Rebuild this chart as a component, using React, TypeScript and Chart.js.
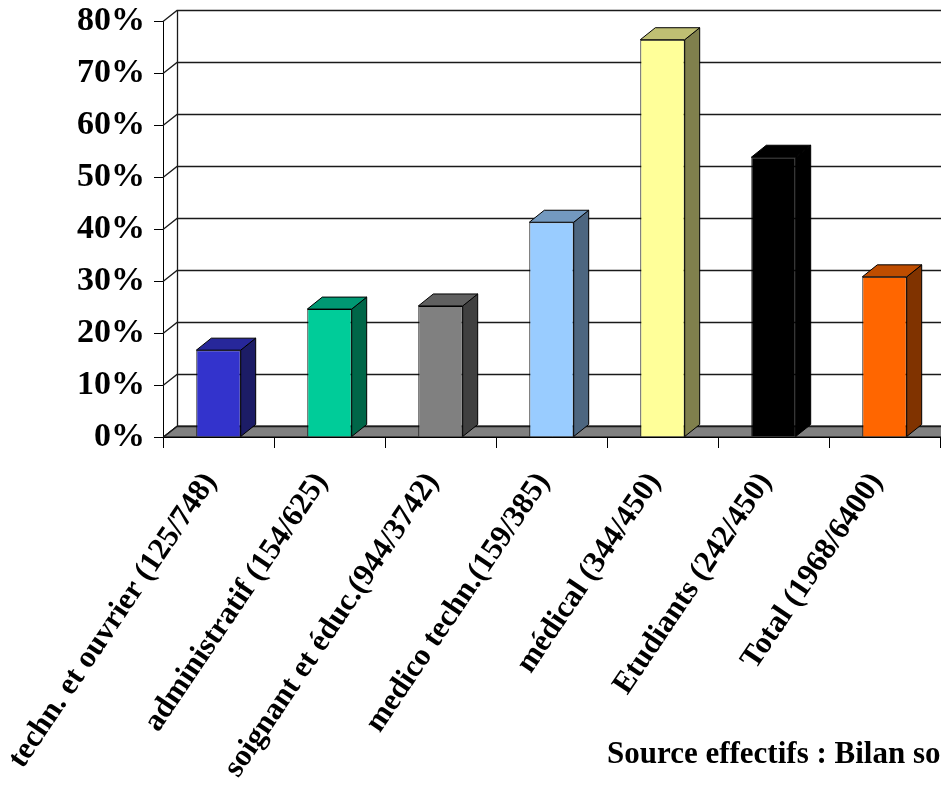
import React, { useEffect, useRef } from "react";
import { Chart, registerables } from "chart.js";

Chart.register(...registerables);

const categories = [
  "techn. et ouvrier (125/748)",
  "administratif (154/625)",
  "soignant et éduc.(944/3742)",
  "medico techn.(159/385)",
  "médical (344/450)",
  "Etudiants (242/450)",
  "Total (1968/6400)",
];
const values = [16.7, 24.6, 25.2, 41.3, 76.4, 53.8, 30.8];
const frontColors = ["#3333CC", "#00CC99", "#808080", "#99CCFF", "#FFFF99", "#000000", "#FF6600"];
const sideColors = ["#1C1C66", "#006648", "#404040", "#4D6680", "#80804D", "#000000", "#803300"];
const topColors = ["#27279A", "#009973", "#606060", "#7399BF", "#BFBF73", "#000000", "#BF4D00"];
const yTicks = [0, 10, 20, 30, 40, 50, 60, 70, 80];
const sourceText = "Source effectifs : Bilan social";

const WALL_DX = 14;
const WALL_DY = 11;
const BAR_DX = 15;
const BAR_DY = 12;

const threeD = {
  id: "threeD",
  beforeDatasetsDraw(chart: any) {
    const { ctx, chartArea, scales } = chart;
    const y = scales.y;
    const L = chartArea.left;
    const R = chart.width;
    const B = y.getPixelForValue(0);
    ctx.save();
    ctx.beginPath();
    ctx.moveTo(L, B);
    ctx.lineTo(L + WALL_DX, B - WALL_DY);
    ctx.lineTo(R + 20, B - WALL_DY);
    ctx.lineTo(R + 20, B);
    ctx.closePath();
    ctx.fillStyle = "#808080";
    ctx.fill();
    ctx.lineWidth = 1;
    ctx.strokeStyle = "#000";
    ctx.stroke();
    ctx.strokeStyle = "#1a1a1a";
    ctx.lineWidth = 1.3;
    for (const v of yTicks) {
      const py = Math.round(y.getPixelForValue(v)) + 0.5;
      ctx.beginPath();
      ctx.moveTo(L, py);
      ctx.lineTo(L + WALL_DX, py - WALL_DY);
      ctx.lineTo(R, py - WALL_DY);
      ctx.stroke();
    }
    const topY = Math.round(y.getPixelForValue(yTicks[yTicks.length - 1])) + 0.5;
    ctx.beginPath();
    ctx.moveTo(L + WALL_DX + 0.5, B - WALL_DY);
    ctx.lineTo(L + WALL_DX + 0.5, topY - WALL_DY);
    ctx.stroke();
    ctx.restore();
  },
  afterDatasetsDraw(chart: any) {
    const { ctx } = chart;
    const meta = chart.getDatasetMeta(0);
    ctx.save();
    ctx.lineWidth = 1;
    ctx.strokeStyle = "#000";
    meta.data.forEach((bar: any, i: number) => {
      const p = bar.getProps(["x", "y", "base", "width"], true);
      const x1 = p.x - p.width / 2;
      const x2 = p.x + p.width / 2;
      const top = p.y;
      const base = p.base;
      ctx.beginPath();
      ctx.moveTo(x2, top);
      ctx.lineTo(x2 + BAR_DX, top - BAR_DY);
      ctx.lineTo(x2 + BAR_DX, base - BAR_DY);
      ctx.lineTo(x2, base);
      ctx.closePath();
      ctx.fillStyle = sideColors[i];
      ctx.fill();
      ctx.stroke();
      ctx.beginPath();
      ctx.moveTo(x1, top);
      ctx.lineTo(x1 + BAR_DX, top - BAR_DY);
      ctx.lineTo(x2 + BAR_DX, top - BAR_DY);
      ctx.lineTo(x2, top);
      ctx.closePath();
      ctx.fillStyle = topColors[i];
      ctx.fill();
      ctx.stroke();
    });
    ctx.restore();
  },
  afterDraw(chart: any) {
    const { ctx } = chart;
    ctx.save();
    ctx.font = "bold 31px 'Liberation Serif'";
    ctx.fillStyle = "#000";
    ctx.textAlign = "left";
    ctx.textBaseline = "alphabetic";
    ctx.fillText(sourceText, 607, 763);
    ctx.restore();
  },
};

export default function App() {
  const ref = useRef<HTMLCanvasElement | null>(null);
  useEffect(() => {
    if (!ref.current) return;
    const chart = new Chart(ref.current, {
      type: "bar",
      data: {
        labels: categories,
        datasets: [
          {
            data: values,
            backgroundColor: frontColors,
            borderColor: "#000",
            borderWidth: 1,
            categoryPercentage: 1,
            barPercentage: 0.4,
          },
        ],
      },
      options: {
        animation: false,
        responsive: false,
        devicePixelRatio: 1,
        layout: { padding: { top: 21, right: 1, left: 0, bottom: 0 } },
        plugins: { legend: { display: false }, tooltip: { enabled: false } },
        scales: {
          y: {
            min: 0,
            max: 80,
            afterFit(scale: any) {
              scale.width = 163;
              scale.paddingTop = 0;
              scale.paddingBottom = 0;
            },
            afterBuildTicks(scale: any) {
              scale.ticks = yTicks.map((v) => ({ value: v }));
            },
            ticks: {
              color: "#000",
              font: { family: "'Liberation Serif'", size: 34, weight: "bold" },
              padding: 9,
              callback: (v: any) => v + "%",
            },
            grid: { drawOnChartArea: false, color: "#000", tickLength: 9, lineWidth: 1 },
            border: { color: "#000", width: 1 },
          },
          x: {
            afterFit(scale: any) {
              scale.height = 792 - 437;
              scale.paddingLeft = 0;
              scale.paddingRight = 0;
            },
            ticks: {
              color: "#000",
              font: { family: "'Liberation Serif'", size: 31, weight: "bold" },
              minRotation: 56,
              maxRotation: 56,
              autoSkip: false,
              padding: 18,
              labelOffset: -8,
            },
            grid: { offset: true, drawOnChartArea: false, color: "#000", tickLength: 11, lineWidth: 1 },
            border: { color: "#000", width: 1 },
          },
        },
      },
      plugins: [threeD],
    });
    return () => chart.destroy();
  }, []);
  return (
    <div style={{ position: "absolute", left: 0, top: 0, width: 941, height: 792, background: "#fff" }}>
      <canvas ref={ref} width={941} height={792} />
    </div>
  );
}
